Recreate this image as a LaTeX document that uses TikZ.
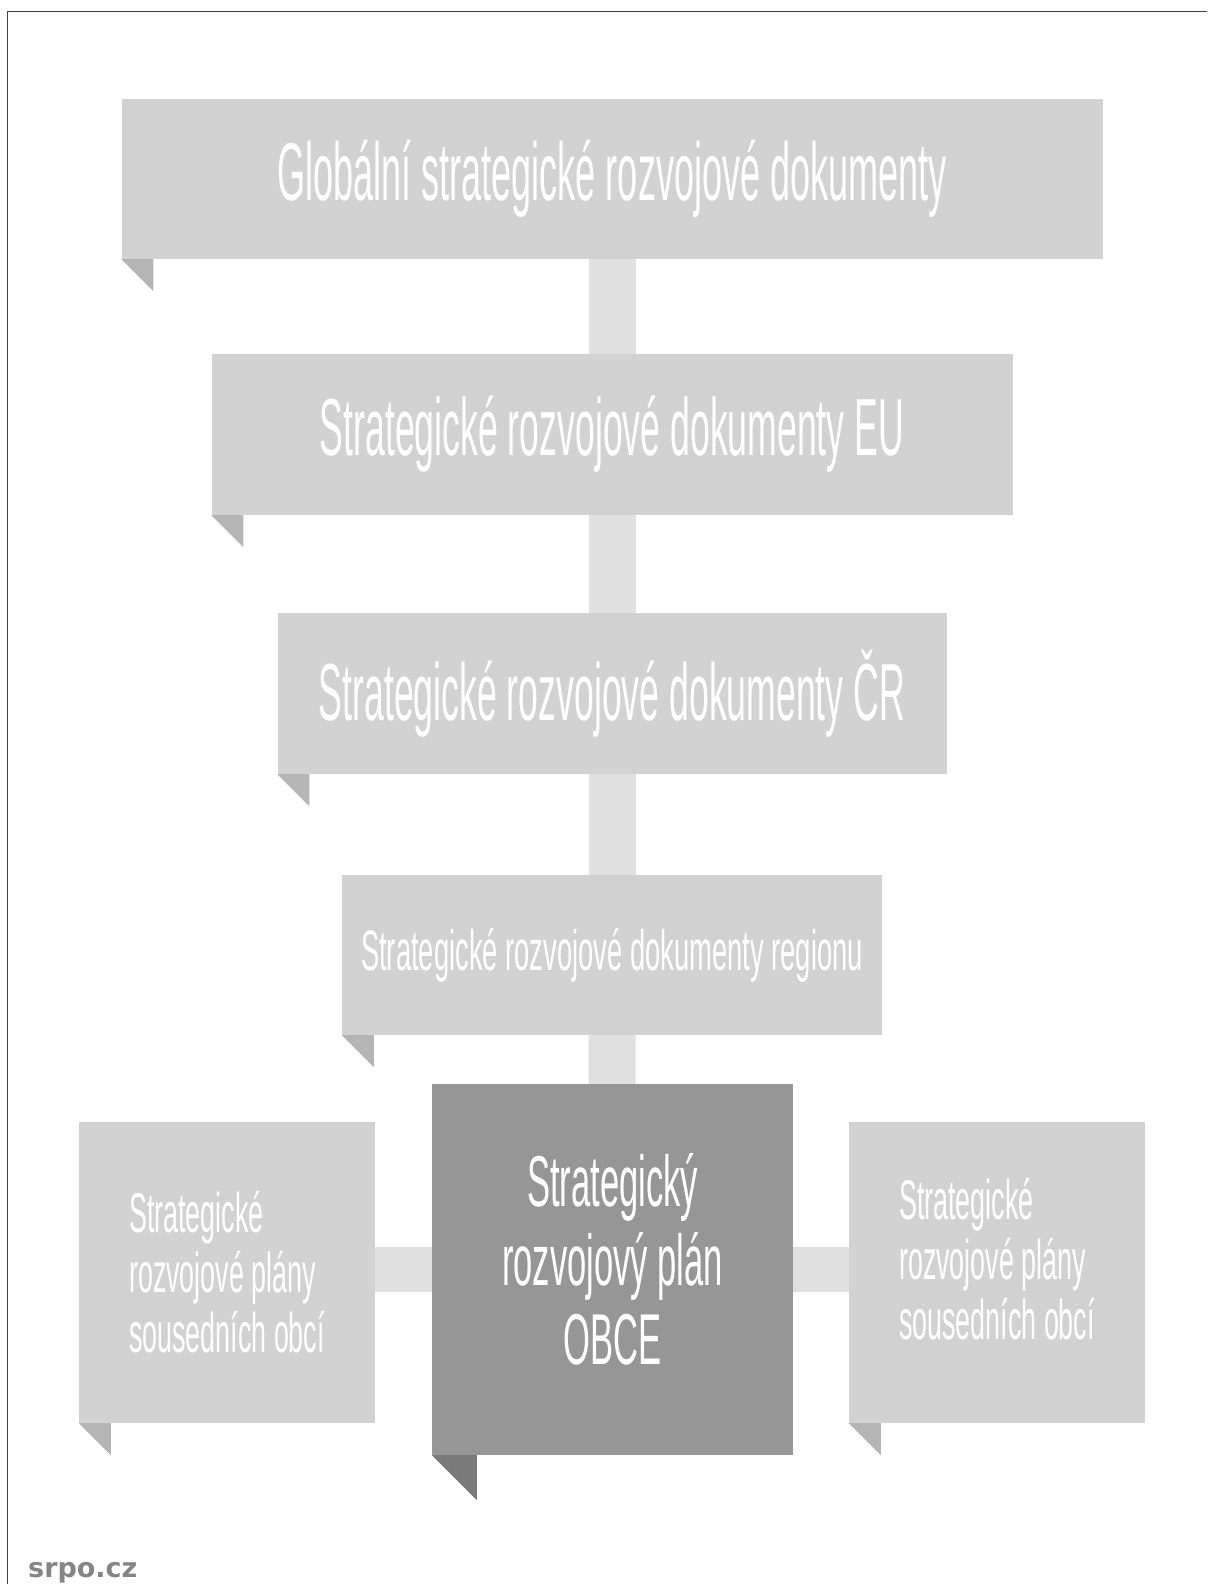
\documentclass[tikz,border=0pt]{standalone}
\usepackage{fontspec}
\setmainfont{Liberation Sans}
\newfontfamily\narrowfont[FakeStretch=0.44]{Liberation Sans}
\newfontfamily\slimfont[FakeStretch=0.48]{Liberation Sans}
\newfontfamily\markfont{DejaVu Sans}
\usetikzlibrary{positioning,backgrounds}

\definecolor{boxgray}{HTML}{D2D2D2}
\definecolor{foldgray}{HTML}{B5B5B5}
\definecolor{linkgray}{HTML}{E0E0E0}
\definecolor{maingray}{HTML}{969696}
\definecolor{mainfold}{HTML}{7A7A7A}
\definecolor{markgray}{HTML}{858585}

\begin{document}
\begin{tikzpicture}[x=1pt,y=-1pt,
    doc/.style={rectangle,fill=boxgray,text=white,inner sep=0pt,align=center},
    plan/.style={doc,minimum width=296pt,minimum height=301pt},
    plantext/.style={text=white,inner sep=0pt,align=left,
                 font=\slimfont\fontsize{56}{60}\selectfont},
    maintext/.style={text=white,inner sep=0pt,align=center,
                 font=\slimfont\fontsize{72}{79}\selectfont},
    link/.style={draw=linkgray,line width=47pt},
    hlink/.style={draw=linkgray,line width=45pt}]
\useasboundingbox (0,0) rectangle (1207,1584);
\draw[line width=1.5pt,draw=black!75] (7.5,1584) -- (7.5,11.5) -- (1207,11.5);

% levels of documents
\node[doc,minimum width=981pt,minimum height=160pt,
      font=\narrowfont\fontsize{82}{86}\selectfont] (glob) at (612,179)
      {Globální strategické rozvojové dokumenty};
\node[doc,minimum width=801pt,minimum height=161pt,
      font=\narrowfont\fontsize{81}{86}\selectfont] (eu) at (612,434.5)
      {Strategické rozvojové dokumenty EU};
\node[doc,minimum width=669pt,minimum height=161pt,
      font=\narrowfont\fontsize{81}{86}\selectfont] (cr) at (612,693.5)
      {Strategické rozvojové dokumenty ČR};
\node[doc,minimum width=540pt,minimum height=160pt,
      font=\slimfont\fontsize{57}{60}\selectfont] (reg) at (612,955)
      {Strategické rozvojové dokumenty regionu};
\node[doc,fill=maingray,minimum width=361pt,minimum height=371pt,
      label={[maintext,yshift=10pt]center:Strategický\\rozvojový plán\\OBCE}]
      (obce) at (612.5,1269.5) {};
\node[plan,label={[plantext]center:Strategické\\rozvojové plány\\sousedních obcí}]
      (leftb) at (227,1272.5) {};
\node[plan,label={[plantext,yshift=13pt]center:Strategické\\rozvojové plány\\sousedních obcí}]
      (rightb) at (997,1272.5) {};

% folded corners
\foreach \n in {glob,eu,cr,reg,leftb,rightb}
    \fill[foldgray] (\n.south west) -- ++(32,0) -- ++(0,32) -- cycle;
\fill[mainfold] (obce.south west) -- ++(45,0) -- ++(0,45) -- cycle;

\begin{scope}[on background layer]
\fill[white] (0,0) rectangle (1207,1584);
\path (glob) edge[link] (eu)
      (eu) edge[link] (cr)
      (cr) edge[link] (reg)
      (reg) edge[link] (obce);
\draw[hlink] (leftb.east |- obce) -- (obce);
\draw[hlink] (obce) -- (rightb.west |- obce);
\end{scope}

\node[anchor=base west,text=markgray,font=\markfont\bfseries\fontsize{27}{30}\selectfont,inner sep=0pt] (web) at (28,1577) {srpo.cz};
\end{tikzpicture}
\end{document}
